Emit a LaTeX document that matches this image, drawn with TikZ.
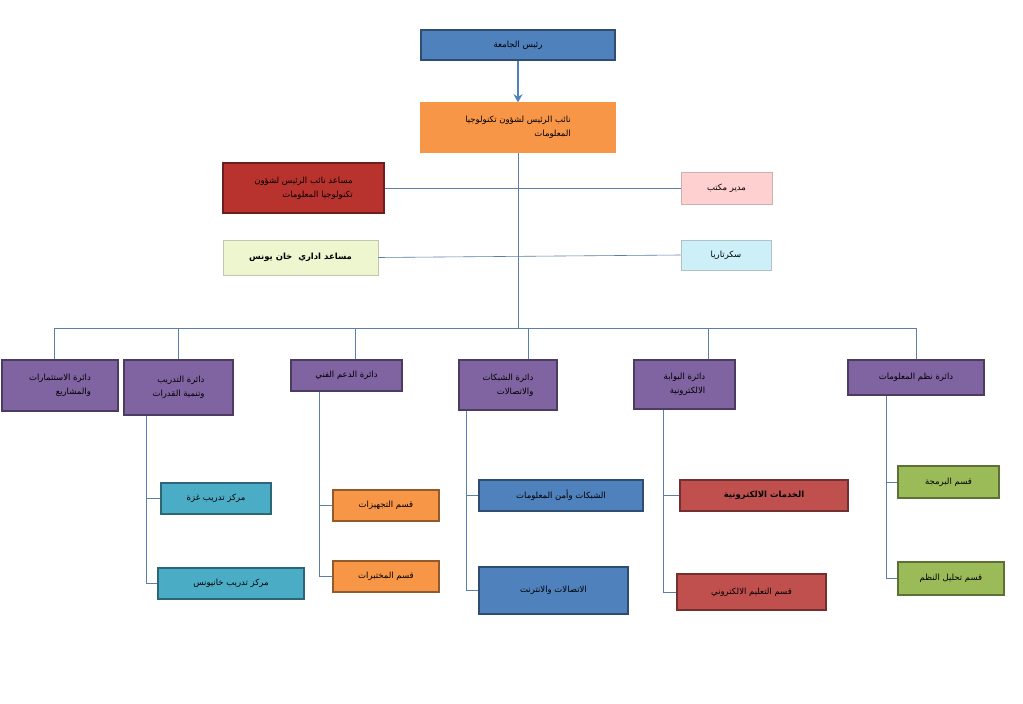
\documentclass[tikz,border=0pt]{standalone}
\usepackage{fontspec}
\newfontfamily\arabicfont[Script=Arabic]{DejaVu Sans}
\TeXXeTstate=1
\usepackage{tikz}
\usetikzlibrary{arrows.meta,positioning}
\newcommand{\ar}[1]{{\arabicfont\beginR #1\endR}}
\definecolor{ublue}{HTML}{4F81BD}
\definecolor{uorange}{HTML}{F79646}
\definecolor{ured}{HTML}{C0504D}
\definecolor{udred}{HTML}{B8322E}
\definecolor{ugreen}{HTML}{9BBB59}
\definecolor{upurple}{HTML}{8064A2}
\definecolor{ucyan}{HTML}{4BACC6}
\definecolor{upink}{HTML}{FFD0D0}
\definecolor{ulgreen}{HTML}{EEF6CF}
\definecolor{ulcyan}{HTML}{CDEFF8}
\definecolor{ulink}{HTML}{5B7FA8}
\tikzset{
  box/.style={draw=#1!60!black, fill=#1, line width=1.5pt, inner sep=2pt, align=right,
    font=\fontsize{8.5}{14}\selectfont, text=black},
  lightbox/.style={box=#1, draw=#1!60!gray, line width=0.8pt},
  link/.style={draw=ulink, line width=0.6pt},
}
\begin{document}
\begin{tikzpicture}[x=1pt,y=-1pt]
\useasboundingbox[fill=white] (0,0) rectangle (1023,704);
% top of the chart
\node[box=ublue, minimum width=194, minimum height=30] (pres) at (518,45) {\ar{رئيس الجامعة}};
\node[box=uorange, draw=uorange, minimum width=194, minimum height=49] (vp) at (518,127.5) {\ar{نائب الرئيس لشؤون تكنولوجيا}\\\ar{المعلومات}};
\node[box=udred, minimum width=161, minimum height=50] (avp) at (303.5,188) {\ar{مساعد نائب الرئيس لشؤون}\\\ar{تكنولوجيا المعلومات}};
\node[lightbox=upink, minimum width=91, minimum height=32] (office) at (726.5,188) {\ar{مدير مكتب}};
\node[lightbox=ulgreen, minimum width=155, minimum height=35, font=\fontsize{8.5}{14}\selectfont\bfseries] (admin) at (300.5,257.5) {\ar{مساعد اداري~~خان يونس}};
\node[lightbox=ulcyan, minimum width=90, minimum height=30] (secr) at (726,255) {\ar{سكرتاريا}};
\draw[ublue, line width=2pt, -{Stealth[length=8pt,width=9pt]}] (pres) -- (vp);
\coordinate (bus) at (518,328);
\draw[link] (vp) -- (bus);
\draw[link] (avp.east) -- (office.west);
\draw[link] (admin.east) -- (secr.west);
% departments
\node[box=upurple, minimum width=116, minimum height=51] (d1) at (60,385.5) {\ar{دائرة الاستثمارات}\\\ar{والمشاريع}};
\node[box=upurple, minimum width=109, minimum height=55] (d2) at (178.5,387.5) {\ar{دائرة التدريب}\\\ar{وتنمية القدرات}};
\node[box=upurple, minimum width=111, minimum height=31] (d3) at (346.5,375.5) {\ar{دائرة الدعم الفني}};
\node[box=upurple, minimum width=98, minimum height=50] (d4) at (508,385) {\ar{دائرة الشبكات}\\\ar{والاتصالات}};
\node[box=upurple, minimum width=101, minimum height=49] (d5) at (684.5,384.5) {\ar{دائرة البوابة}\\\ar{الالكترونية}};
\node[box=upurple, minimum width=136, minimum height=35] (d6) at (916,377.5) {\ar{دائرة نظم المعلومات}};
\draw[link] (54,328) -- (916,328);
\foreach \d/\x in {d1/54, d2/178, d3/355, d4/528, d5/708, d6/916}
  \draw[link] (\x,328) -- (\d.north -| \x,0);
% sections
\node[box=ucyan, minimum width=110, minimum height=31] (gaza) at (216,498.5) {\ar{مركز تدريب غزة}};
\node[box=ucyan, minimum width=146, minimum height=31] (khan) at (231,583.5) {\ar{مركز تدريب خانيونس}};
\node[box=uorange, minimum width=106, minimum height=31] (equip) at (386,505.5) {\ar{قسم التجهيزات}};
\node[box=uorange, minimum width=106, minimum height=31] (labs) at (386,576.5) {\ar{قسم المختبرات}};
\node[box=ublue, minimum width=164, minimum height=31] (netsec) at (561,495.5) {\ar{الشبكات وأمن المعلومات}};
\node[box=ublue, minimum width=149, minimum height=47] (inet) at (553.5,590.5) {\ar{الاتصالات والانترنت}};
\node[box=ured, minimum width=168, minimum height=31, font=\fontsize{8.5}{14}\selectfont\bfseries] (eserv) at (764,495.5) {\ar{الخدمات الالكترونية}};
\node[box=ured, minimum width=149, minimum height=36] (elearn) at (751.5,592) {\ar{قسم التعليم الالكتروني}};
\node[box=ugreen, minimum width=101, minimum height=32] (prog) at (948.5,482) {\ar{قسم البرمجة}};
\node[box=ugreen, minimum width=106, minimum height=33] (sysan) at (951,578.5) {\ar{قسم تحليل النظم}};
\foreach \d/\x/\a/\b in {d2/146/gaza/khan, d3/319/equip/labs, d4/466/netsec/inet, d5/663/eserv/elearn, d6/886/prog/sysan} {
  \draw[link] (\d.south -| \x,0) |- (\a.west);
  \draw[link] (\d.south -| \x,0) |- (\b.west);
}
\end{tikzpicture}
\end{document}
